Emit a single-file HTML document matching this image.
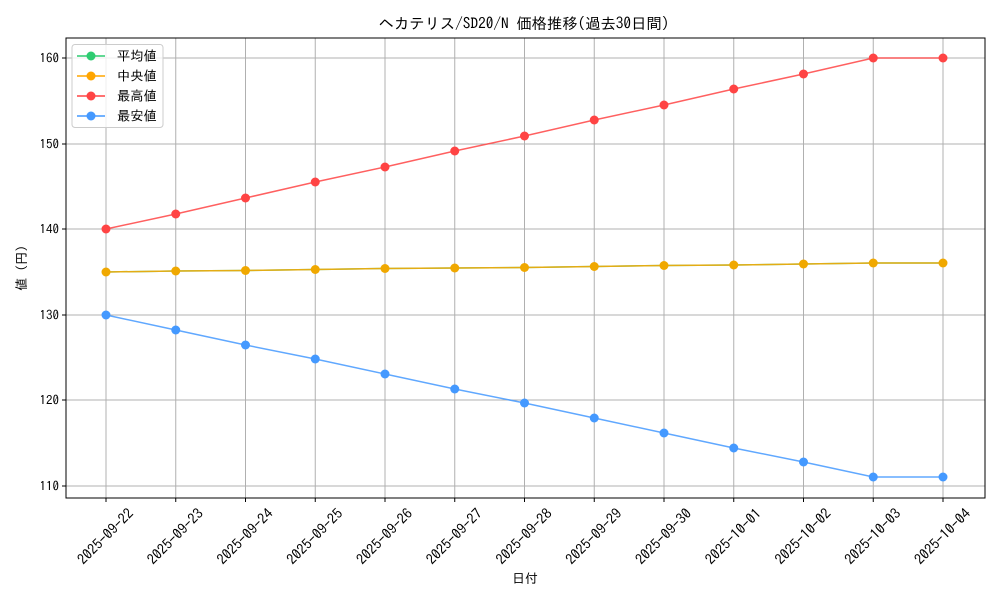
<!DOCTYPE html>
<html><head><meta charset="utf-8"><style>
html,body{margin:0;padding:0;background:#fff}
svg text{font-family:"IPAGothic","Liberation Mono","Noto Sans CJK JP",monospace;fill:#000}
</style></head><body>
<svg width="1000" height="600" viewBox="0 0 1000 600" xmlns="http://www.w3.org/2000/svg">
<rect width="1000" height="600" fill="#fff"/>
<g stroke="#b0b0b0" stroke-width="1">
<line x1="106" y1="38" x2="106" y2="498"/><line x1="175.75" y1="38" x2="175.75" y2="498"/><line x1="245.5" y1="38" x2="245.5" y2="498"/><line x1="315.25" y1="38" x2="315.25" y2="498"/><line x1="385" y1="38" x2="385" y2="498"/><line x1="454.75" y1="38" x2="454.75" y2="498"/><line x1="524.5" y1="38" x2="524.5" y2="498"/><line x1="594.25" y1="38" x2="594.25" y2="498"/><line x1="664" y1="38" x2="664" y2="498"/><line x1="733.75" y1="38" x2="733.75" y2="498"/><line x1="803.5" y1="38" x2="803.5" y2="498"/><line x1="873.25" y1="38" x2="873.25" y2="498"/><line x1="943" y1="38" x2="943" y2="498"/>
<line x1="66" y1="58" x2="985" y2="58"/><line x1="66" y1="144" x2="985" y2="144"/><line x1="66" y1="229" x2="985" y2="229"/><line x1="66" y1="315" x2="985" y2="315"/><line x1="66" y1="400" x2="985" y2="400"/><line x1="66" y1="486" x2="985" y2="486"/>
</g>
<rect x="66" y="38" width="919" height="460" fill="none" stroke="#000" stroke-width="1"/>
<g stroke="#000"><line x1="62" y1="58" x2="66" y2="58"/><line x1="62" y1="144" x2="66" y2="144"/><line x1="62" y1="229" x2="66" y2="229"/><line x1="62" y1="315" x2="66" y2="315"/><line x1="62" y1="400" x2="66" y2="400"/><line x1="62" y1="486" x2="66" y2="486"/>
<line x1="106" y1="498" x2="106" y2="502"/><line x1="175.75" y1="498" x2="175.75" y2="502"/><line x1="245.5" y1="498" x2="245.5" y2="502"/><line x1="315.25" y1="498" x2="315.25" y2="502"/><line x1="385" y1="498" x2="385" y2="502"/><line x1="454.75" y1="498" x2="454.75" y2="502"/><line x1="524.5" y1="498" x2="524.5" y2="502"/><line x1="594.25" y1="498" x2="594.25" y2="502"/><line x1="664" y1="498" x2="664" y2="502"/><line x1="733.75" y1="498" x2="733.75" y2="502"/><line x1="803.5" y1="498" x2="803.5" y2="502"/><line x1="873.25" y1="498" x2="873.25" y2="502"/><line x1="943" y1="498" x2="943" y2="502"/></g>
<g font-size="13" text-anchor="end"><text x="59" y="62.5">160</text><text x="59" y="148.5">150</text><text x="59" y="233.5">140</text><text x="59" y="319.5">130</text><text x="59" y="404.5">120</text><text x="59" y="490.5">110</text></g>
<g font-size="14.4" text-anchor="middle">
<text transform="translate(109,540) rotate(-45)">2025-09-22</text><text transform="translate(178.75,540) rotate(-45)">2025-09-23</text><text transform="translate(248.5,540) rotate(-45)">2025-09-24</text><text transform="translate(318.25,540) rotate(-45)">2025-09-25</text><text transform="translate(388,540) rotate(-45)">2025-09-26</text><text transform="translate(457.75,540) rotate(-45)">2025-09-27</text><text transform="translate(527.5,540) rotate(-45)">2025-09-28</text><text transform="translate(597.25,540) rotate(-45)">2025-09-29</text><text transform="translate(667,540) rotate(-45)">2025-09-30</text><text transform="translate(736.75,540) rotate(-45)">2025-10-01</text><text transform="translate(806.5,540) rotate(-45)">2025-10-02</text><text transform="translate(876.25,540) rotate(-45)">2025-10-03</text><text transform="translate(946,540) rotate(-45)">2025-10-04</text>
</g>
<text x="525" y="583" font-size="13" text-anchor="middle">日付</text>
<text transform="translate(26,268) rotate(-90)" font-size="13" text-anchor="middle">値 (円)</text>
<text x="524" y="29" font-size="15.3" text-anchor="middle">ヘカテリス/SD20/N 価格推移(過去30日間)</text>
<g fill="none" stroke-width="1.5" stroke-opacity="0.85">
<polyline stroke="#2ecc71" points="106,272 175.75,271 245.5,270.5 315.25,269.5 385,268.5 454.75,268 524.5,267.5 594.25,266.5 664,265.5 733.75,265 803.5,264 873.25,263 943,263"/>
<polyline stroke="#ffa500" points="106,272 175.75,271 245.5,270.5 315.25,269.5 385,268.5 454.75,268 524.5,267.5 594.25,266.5 664,265.5 733.75,265 803.5,264 873.25,263 943,263"/>
<polyline stroke="#ff4444" points="106,229 175.75,214 245.5,198 315.25,182 385,167 454.75,151 524.5,136 594.25,120 664,105 733.75,89 803.5,74 873.25,58 943,58"/>
<polyline stroke="#4499ff" points="106,315 175.75,330 245.5,345 315.25,359 385,374 454.75,389 524.5,403 594.25,418 664,433 733.75,448 803.5,462 873.25,477 943,477"/>
</g>
<g fill="#f0a800"><circle cx="106" cy="272" r="4.5"/><circle cx="175.75" cy="271" r="4.5"/><circle cx="245.5" cy="270.5" r="4.5"/><circle cx="315.25" cy="269.5" r="4.5"/><circle cx="385" cy="268.5" r="4.5"/><circle cx="454.75" cy="268" r="4.5"/><circle cx="524.5" cy="267.5" r="4.5"/><circle cx="594.25" cy="266.5" r="4.5"/><circle cx="664" cy="265.5" r="4.5"/><circle cx="733.75" cy="265" r="4.5"/><circle cx="803.5" cy="264" r="4.5"/><circle cx="873.25" cy="263" r="4.5"/><circle cx="943" cy="263" r="4.5"/></g>
<g fill="#ff4444"><circle cx="106" cy="229" r="4.5"/><circle cx="175.75" cy="214" r="4.5"/><circle cx="245.5" cy="198" r="4.5"/><circle cx="315.25" cy="182" r="4.5"/><circle cx="385" cy="167" r="4.5"/><circle cx="454.75" cy="151" r="4.5"/><circle cx="524.5" cy="136" r="4.5"/><circle cx="594.25" cy="120" r="4.5"/><circle cx="664" cy="105" r="4.5"/><circle cx="733.75" cy="89" r="4.5"/><circle cx="803.5" cy="74" r="4.5"/><circle cx="873.25" cy="58" r="4.5"/><circle cx="943" cy="58" r="4.5"/></g>
<g fill="#4499ff"><circle cx="106" cy="315" r="4.5"/><circle cx="175.75" cy="330" r="4.5"/><circle cx="245.5" cy="345" r="4.5"/><circle cx="315.25" cy="359" r="4.5"/><circle cx="385" cy="374" r="4.5"/><circle cx="454.75" cy="389" r="4.5"/><circle cx="524.5" cy="403" r="4.5"/><circle cx="594.25" cy="418" r="4.5"/><circle cx="664" cy="433" r="4.5"/><circle cx="733.75" cy="448" r="4.5"/><circle cx="803.5" cy="462" r="4.5"/><circle cx="873.25" cy="477" r="4.5"/><circle cx="943" cy="477" r="4.5"/></g>
<rect x="72" y="44.5" width="91" height="83" rx="3" fill="#fff" fill-opacity="0.8" stroke="#ccc"/>
<g stroke-width="1.5">
<line x1="77" y1="56" x2="105" y2="56" stroke="#2ecc71"/><circle cx="91" cy="56" r="4.5" fill="#2ecc71"/>
<line x1="77" y1="76" x2="105" y2="76" stroke="#ffa500"/><circle cx="91" cy="76" r="4.5" fill="#ffa500"/>
<line x1="77" y1="96" x2="105" y2="96" stroke="#ff4444"/><circle cx="91" cy="96" r="4.5" fill="#ff4444"/>
<line x1="77" y1="116" x2="105" y2="116" stroke="#4499ff"/><circle cx="91" cy="116" r="4.5" fill="#4499ff"/>
</g>
<g font-size="13.3"><text x="117" y="60.5">平均値</text><text x="117" y="80.5">中央値</text><text x="117" y="100.5">最高値</text><text x="117" y="120.5">最安値</text></g>
</svg>
</body></html>
